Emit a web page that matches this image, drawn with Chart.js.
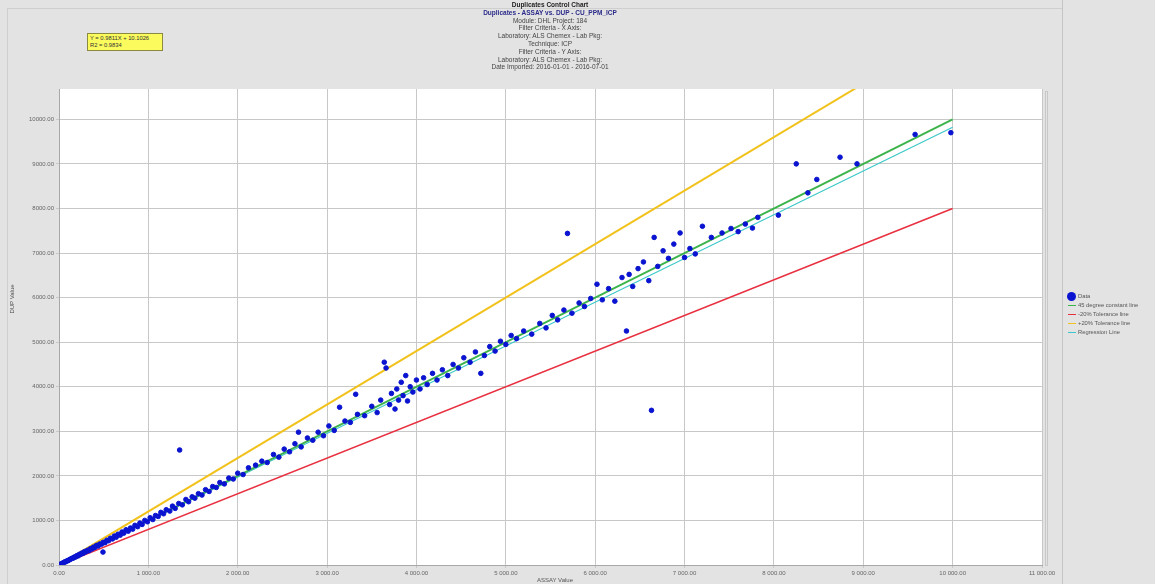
<!DOCTYPE html>
<html>
<head>
<meta charset="utf-8">
<script src="https://cdn.jsdelivr.net/npm/chart.js@4.4.0/dist/chart.umd.min.js"></script>
<style>
	body { margin: 0; background: #e3e3e3; font-family: "Liberation Sans", Arial, sans-serif; }
	#wrap { position: relative; width: 1155px; height: 584px; overflow: hidden; }
	#grafico { position: absolute; left: 0; top: 0; }
	.frame { position: absolute; left: 7px; top: 8px; width: 1054px; height: 580px; border: 1px solid #cfcfcf; border-bottom: none; }
	.sep { position: absolute; left: 1062px; top: 0; width: 1px; height: 584px; background: #c4c4c4; }
	#titulos { position: absolute; left: 350px; width: 400px; top: 1px; text-align: center; font-size: 6.5px; line-height: 7.8px; color: #444; }
	#titulos .t1 { color: #222; font-weight: bold; }
	#titulos .t2 { color: #2a2a8a; font-weight: bold; }
	#caixa { position: absolute; left: 87px; top: 33px; width: 70px; height: 14px; padding: 1px 2px; background: #fbfb5e; border: 1px solid #8a8a40; font-size: 5.8px; line-height: 7px; color: #333; }
	#legenda { position: absolute; left: 1067px; top: 292px; width: 88px; overflow: hidden; font-size: 5.8px; color: #555; white-space: nowrap; }
	#legenda div { height: 9px; line-height: 9px; position: relative; padding-left: 11px; }
	#legenda span.ln { position: absolute; left: 1px; top: 4px; width: 8px; height: 1px; }
	#legenda span.dot { position: absolute; left: 0px; top: 0px; width: 9px; height: 9px; border-radius: 50%; background: #0a14d0; }
	.eixoY { position: absolute; left: -8px; top: 296px; width: 40px; text-align: center; transform: rotate(-90deg); font-size: 6px; color: #555; }
	.eixoX { position: absolute; left: 520px; top: 577px; width: 70px; text-align: center; font-size: 6px; color: #555; }
</style>
</head>
<body>
<div id="wrap">
	<div class="frame"></div>
	<div class="sep"></div>
	<canvas id="grafico" width="1155" height="584"></canvas>
	<div id="titulos">
		<div class="t1">Duplicates Control Chart</div>
		<div class="t2">Duplicates - ASSAY vs. DUP - CU_PPM_ICP</div>
		<div>Module: DHL Project: 184</div>
		<div>Filter Criteria - X Axis:</div>
		<div>Laboratory: ALS Chemex - Lab Pkg:</div>
		<div>Technique: ICP</div>
		<div>Filter Criteria - Y Axis:</div>
		<div>Laboratory: ALS Chemex - Lab Pkg:</div>
		<div>Date Imported: 2016-01-01 - 2016-07-01</div>
	</div>
	<div id="caixa">Y = 0.9811X + 10.1026<br>R2 = 0.9834</div>
	<div class="eixoY">DUP Value</div>
	<div class="eixoX">ASSAY Value</div>
	<div id="legenda">
		<div><span class="dot"></span>Data</div>
		<div><span class="ln" style="background:#3cb44b"></span>45 degree constant line</div>
		<div><span class="ln" style="background:#e83040"></span>-20% Tolerance line</div>
		<div><span class="ln" style="background:#f2c21c"></span>+20% Tolerance line</div>
		<div><span class="ln" style="background:#3cc8c8"></span>Regression Line</div>
	</div>
</div>
<script>
// valores
var assayValues = [15, 28, 40, 52, 64, 78, 90, 105, 118, 130, 145, 160, 172, 185, 200, 215, 228, 240, 255, 270,
	285, 300, 318, 335, 350, 368, 385, 400, 420, 438, 455, 475, 492, 495, 515, 535, 555, 575, 598, 620,
	640, 660, 685, 705, 725, 750, 775, 800, 825, 850, 880, 905, 930, 960, 990, 1020, 1050, 1080, 1110, 1140,
	1170, 1200, 1240, 1270, 1300, 1340, 1350, 1380, 1420, 1450, 1490, 1520, 1560, 1600, 1640, 1680, 1720, 1760, 1800, 1850,
	1900, 1950, 2000, 2060, 2120, 2200, 2270, 2330, 2400, 2460, 2520, 2580, 2640, 2680, 2710, 2780, 2840, 2900, 2960, 3020,
	3080, 3140, 3200, 3260, 3320, 3340, 3420, 3500, 3560, 3600, 3640, 3660, 3700, 3720, 3760, 3780, 3800, 3830, 3850, 3880,
	3900, 3930, 3960, 4000, 4040, 4080, 4120, 4180, 4230, 4290, 4350, 4410, 4470, 4530, 4600, 4660, 4720, 4760, 4820, 4880,
	4940, 5000, 5060, 5120, 5200, 5290, 5380, 5450, 5520, 5580, 5650, 5690, 5740, 5820, 5880, 5950, 6020, 6080, 6150, 6220,
	6300, 6350, 6380, 6420, 6480, 6540, 6600, 6630, 6660, 6700, 6760, 6820, 6880, 6950, 7000, 7060, 7120, 7200, 7300, 7420,
	7520, 7600, 7680, 7760, 7820, 8050, 8250, 8380, 8480, 8740, 8930, 9580, 9980];
var dupValues = [18, 25, 44, 50, 70, 75, 96, 100, 125, 128, 152, 155, 180, 178, 210, 205, 240, 236, 268, 262,
	300, 295, 330, 320, 365, 360, 400, 392, 440, 425, 470, 468, 290, 510, 500, 555, 545, 600, 585, 650,
	625, 690, 670, 740, 715, 790, 760, 830, 805, 890, 860, 940, 910, 1000, 970, 1060, 1020, 1110, 1090, 1180,
	1150, 1240, 1210, 1320, 1270, 1380, 2580, 1350, 1470, 1420, 1530, 1500, 1600, 1570, 1690, 1650, 1760, 1740, 1850, 1820,
	1950, 1930, 2060, 2030, 2180, 2240, 2330, 2300, 2480, 2420, 2600, 2540, 2720, 2980, 2650, 2850, 2800, 2980, 2900, 3120,
	3020, 3540, 3230, 3200, 3830, 3380, 3350, 3560, 3420, 3700, 4550, 4420, 3600, 3850, 3500, 3950, 3700, 4100, 3800, 4250,
	3680, 4000, 3880, 4150, 3950, 4200, 4050, 4300, 4150, 4380, 4250, 4500, 4420, 4650, 4550, 4780, 4300, 4700, 4900, 4800,
	5020, 4950, 5150, 5080, 5250, 5180, 5420, 5320, 5600, 5500, 5720, 7440, 5650, 5880, 5800, 5980, 6300, 5950, 6200, 5920,
	6450, 5250, 6520, 6250, 6650, 6800, 6380, 3470, 7350, 6700, 7050, 6880, 7200, 7450, 6900, 7100, 6980, 7600, 7350, 7450,
	7550, 7480, 7650, 7560, 7800, 7850, 9000, 8350, 8650, 9150, 9000, 9660, 9700];

var xTicks = [0, 1000, 2000, 3000, 4000, 5000, 6000, 7000, 8000, 9000, 10000, 11000];
var yTicks = [0, 1000, 2000, 3000, 4000, 5000, 6000, 7000, 8000, 9000, 10000];
var regressao = [0.9811, 10.1026];
var linhaFimX = 10000;

function pegarPontos() {
	let pontos = [];
	for (let i = 0; i < assayValues.length; i++) {
		pontos.push({ x: assayValues[i], y: dupValues[i] });
	}
	return pontos;
}

function linha(fator, soma) {
	return [{ x: 0, y: soma }, { x: linhaFimX, y: linhaFimX * fator + soma }];
}

function formatarX(v) {
	let s = v.toFixed(2).split('.');
	return s[0].replace(/\B(?=(\d{3})+(?!\d))/g, ' ') + '.' + s[1];
}

var fundoBranco = {
	id: 'fundoBranco',
	beforeDraw: function (chart) {
		let a = chart.chartArea;
		let ctx = chart.ctx;
		ctx.save();
		ctx.fillStyle = '#ffffff';
		ctx.fillRect(a.left, a.top, a.right - a.left, a.bottom - a.top);
		ctx.strokeStyle = '#c8c8c8';
		ctx.strokeRect(a.right + 3.5, a.top + 2.5, 2, a.bottom - a.top - 2);
		ctx.restore();
	}
};

var grafico = new Chart(document.getElementById('grafico'), {
	type: 'scatter',
	data: {
		datasets: [{
			label: 'Data',
			data: pegarPontos(),
			backgroundColor: '#0a14d0',
			borderColor: '#0a14d0',
			pointRadius: 2.3,
			pointHoverRadius: 2.3
		}, {
			label: '45 degree constant line',
			data: linha(1, 0),
			showLine: true,
			borderColor: '#3cb44b',
			borderWidth: 2,
			pointRadius: 0
		}, {
			label: 'Regression Line',
			data: linha(regressao[0], regressao[1]),
			showLine: true,
			borderColor: '#3cc8c8',
			borderWidth: 1.2,
			pointRadius: 0
		}, {
			label: '-20% Tolerance line',
			data: linha(0.8, 0),
			showLine: true,
			borderColor: '#e83040',
			borderWidth: 1.6,
			pointRadius: 0
		}, {
			label: '+20% Tolerance line',
			data: linha(1.2, 0),
			showLine: true,
			borderColor: '#f2c21c',
			borderWidth: 2,
			pointRadius: 0
		}]
	},
	options: {
		responsive: false,
		animation: false,
		layout: { padding: { left: 0, top: 89, right: 113, bottom: 0 } },
		plugins: {
			legend: { display: false },
			tooltip: { enabled: false }
		},
		scales: {
			x: {
				type: 'linear',
				min: 0,
				max: 11000,
				afterFit: function (s) { s.height = 19; },
				afterBuildTicks: function (s) { s.ticks = xTicks.map(function (v) { return { value: v }; }); },
				grid: { color: '#c8c8c8', tickLength: 3 },
				border: { color: '#a8a8a8' },
				ticks: {
					padding: 2,
					maxRotation: 0,
					color: '#666',
					font: { size: 6, family: 'Liberation Sans' },
					callback: function (v) { return formatarX(v); }
				}
			},
			y: {
				min: 0,
				max: 10680,
				afterFit: function (s) { s.width = 59; },
				afterBuildTicks: function (s) { s.ticks = yTicks.map(function (v) { return { value: v }; }); },
				grid: { color: '#c8c8c8', tickLength: 3 },
				border: { color: '#a8a8a8' },
				ticks: {
					padding: 2,
					color: '#666',
					font: { size: 6, family: 'Liberation Sans' },
					callback: function (v) { return v.toFixed(2); }
				}
			}
		}
	},
	plugins: [fundoBranco]
});
</script>
</body>
</html>
